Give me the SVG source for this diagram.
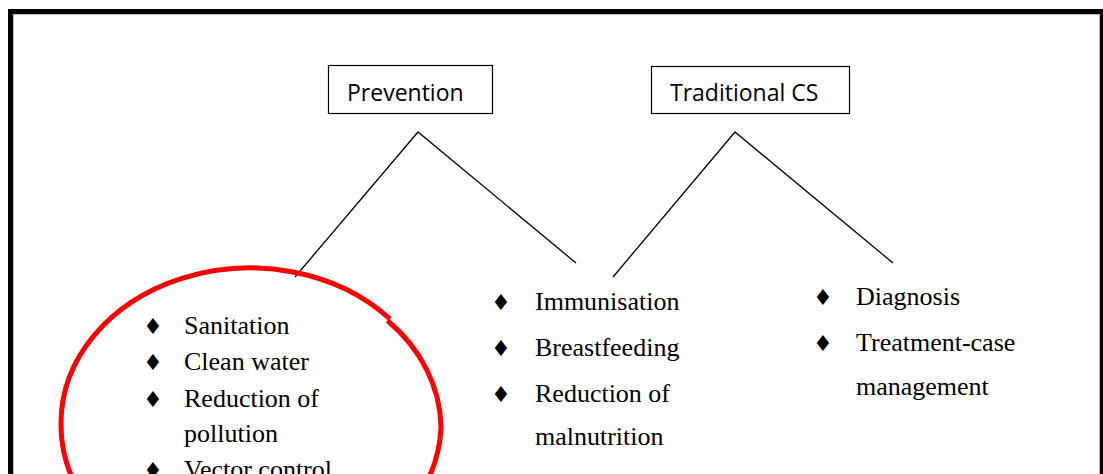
<svg xmlns="http://www.w3.org/2000/svg" width="1103" height="474" viewBox="0 0 1103 474">
  <style>
    .box { fill: #ffffff; stroke: #000000; stroke-width: 1.2; }
    .head { font-family: "Open Sans", "Noto Sans", sans-serif; font-size: 23px; fill: #000000; }
    .item { font-family: "Liberation Serif", "Times New Roman", serif; font-size: 26px; fill: #000000; }
    .bullet { font-family: "DejaVu Sans", sans-serif; font-size: 22px; fill: #000000; }
    .link { fill: none; stroke: #000000; stroke-width: 1.3; }
    .ring { fill: none; stroke: #ff0000; stroke-width: 5; }
  </style>
  <rect width="1103" height="474" fill="#ffffff"/>

  <!-- page frame -->
  <g id="frame">
    <rect x="10.5" y="11.5" width="1092" height="500" fill="none" stroke="#000000" stroke-width="5"/>
    <path d="M13.5 474 V14.5 H1099.5 V474" fill="none" stroke="#b8b8b8" stroke-width="1"/>
  </g>

  <!-- connectors -->
  <g id="connectors">
    <polyline class="link" points="295,277 418,132 576,263"/>
    <polyline class="link" points="613,277 735,132 893,263"/>
  </g>

  <g id="prevention">
    <rect class="box" x="328.5" y="65.5" width="164" height="48"/>
    <text class="head" x="347" y="101">Prevention</text>
  </g>

  <g id="traditional-cs">
    <rect class="box" x="651.5" y="66.5" width="198" height="47"/>
    <text class="head" x="670" y="101">Traditional CS</text>
  </g>

  <!-- hand-drawn red ring round the environmental measures, drawn in two strokes -->
  <g id="ring">
    <path class="ring" d="M390 319 A189 155.5 0 0 0 61 425 A189 155.5 0 0 0 100 520"/>
    <path class="ring" d="M387.5 320.5 A189 155.5 0 0 1 441 427 A189 155.5 0 0 1 416 500"/>
  </g>

  <g id="environment-list">
    <text class="bullet" x="143" y="334">♦</text>
    <text class="item" x="184" y="334">Sanitation</text>
    <text class="bullet" x="143" y="370">♦</text>
    <text class="item" x="184" y="370">Clean water</text>
    <text class="bullet" x="143" y="406.5">♦</text>
    <text class="item" x="184" y="406.5">Reduction of</text>
    <text class="item" x="184" y="441.5">pollution</text>
    <text class="bullet" x="143" y="478">♦</text>
    <text class="item" x="184" y="478">Vector control</text>
  </g>

  <g id="child-health-list">
    <text class="bullet" x="491" y="310">♦</text>
    <text class="item" x="535" y="310">Immunisation</text>
    <text class="bullet" x="491" y="356">♦</text>
    <text class="item" x="535" y="356">Breastfeeding</text>
    <text class="bullet" x="491" y="402">♦</text>
    <text class="item" x="535" y="402">Reduction of</text>
    <text class="item" x="535" y="445">malnutrition</text>
  </g>

  <g id="care-list">
    <text class="bullet" x="813" y="305">♦</text>
    <text class="item" x="856" y="305">Diagnosis</text>
    <text class="bullet" x="813" y="351">♦</text>
    <text class="item" x="856" y="351">Treatment-case</text>
    <text class="item" x="856" y="395">management</text>
  </g>
</svg>
